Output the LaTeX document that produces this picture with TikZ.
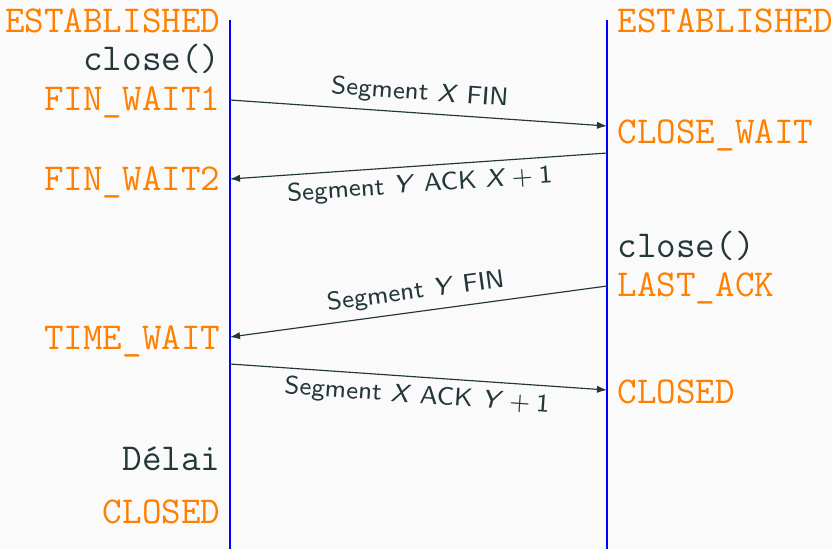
\documentclass[tikz,border=0pt]{standalone}
\usetikzlibrary{arrows.meta}
\definecolor{bg}{HTML}{FAFAFA}
\definecolor{dark}{HTML}{23373B}
\definecolor{orng}{HTML}{FF8000}
\newcommand{\opsp}{\hspace{0.24em}}
\begin{document}
\begin{tikzpicture}[x=0.3pt,y=-0.3pt,
  state/.style={text=orng, font=\fontsize{11.4}{13}\selectfont\ttfamily, inner sep=0pt},
  call/.style={text=dark, font=\fontsize{11.4}{13}\selectfont\ttfamily, inner sep=0pt},
  lifeline/.style={draw=blue, line width=0.8pt},
  msg/.style={draw=dark, line width=0.35pt, -{Latex[length=3pt,width=2.2pt]}},
  lbl/.style={text=dark, font=\fontsize{7.6}{9}\selectfont\sffamily, sloped, midway, inner sep=2.2pt}]
\fill[bg] (0,0) rectangle (832,549);
\useasboundingbox (0,0) rectangle (832,549);
% lifelines
\coordinate (Ltop) at (230,20);
\coordinate (Lbot) at (230,549);
\coordinate (Rtop) at (607,20);
\coordinate (Rbot) at (607,549);
\draw[lifeline] (Ltop) -- (Lbot);
\draw[lifeline] (Rtop) -- (Rbot);
% left labels
\node[state, anchor=base east] (lest) at (221,32) {ESTABLISHED};
\node[call, anchor=base east] (lclose) at (221,70) {close()};
\node[state, anchor=base east] (fw1) at (221,110) {FIN\_WAIT1};
\node[state, anchor=base east] (fw2) at (221,190) {FIN\_WAIT2};
\node[state, anchor=base east] (tw) at (221,349) {TIME\_WAIT};
\node[call, anchor=base east] (delai) at (221,470) {Délai};
\node[state, anchor=base east] (lclosed) at (221,523) {CLOSED};
% right labels
\node[state, anchor=base west] (rest) at (617,32) {ESTABLISHED};
\node[state, anchor=base west] (cw) at (617,143) {CLOSE\_WAIT};
\node[call, anchor=base west] (rclose) at (617,257) {close()};
\node[state, anchor=base west] (la) at (617,296) {LAST\_ACK};
\node[state, anchor=base west] (rclosed) at (617,403) {CLOSED};
% message endpoints
\coordinate (m1s) at (230,100);
\coordinate (m1e) at (607,126);
\coordinate (m2s) at (607,153);
\coordinate (m2e) at (230,179);
\coordinate (m3s) at (607,286);
\coordinate (m3e) at (230,337);
\coordinate (m4s) at (230,364);
\coordinate (m4e) at (607,390);
% messages
\draw[msg] (m1s) -- node[lbl, above] (t1) {Segment \textit{X} FIN} (m1e);
\draw[msg] (m2s) -- node[lbl, below] (t2) {Segment \textit{Y} ACK \textit{X}\opsp+\opsp1} (m2e);
\draw[msg] (m3s) -- node[lbl, above] (t3) {Segment \textit{Y} FIN} (m3e);
\draw[msg] (m4s) -- node[lbl, below] (t4) {Segment \textit{X} ACK \textit{Y}\opsp+\opsp1} (m4e);
\end{tikzpicture}
\end{document}
